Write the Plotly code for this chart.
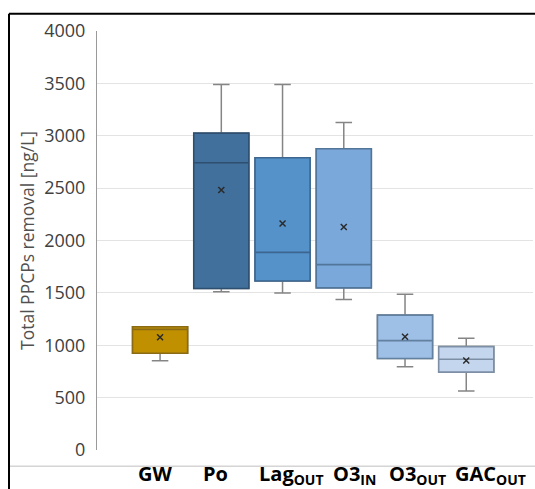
import plotly.graph_objects as go

categories = ["GW", "Po", "Lag<sub>OUT</sub>", "O3<sub>IN</sub>", "O3<sub>OUT</sub>", "GAC<sub>OUT</sub>"]
lower_whisker = [851, 1510, 1500, 1437, 794, 563]
q1 = [924, 1542, 1614, 1548, 873, 743]
median = [1152, 2742, 1887, 1770, 1044, 867]
q3 = [1177, 3025, 2790, 2876, 1288, 987]
upper_whisker = [1177, 3490, 3490, 3126, 1488, 1067]
mean = [1076, 2483, 2163, 2128, 1082, 854]

fills = ["#C09000", "#41709C", "#5592CA", "#7AA8DA", "#9EBFE6", "#C4D6EE"]
outlines = ["#8A6A14", "#2E4F70", "#3C6690", "#52759A", "#62809F", "#7C8FA5"]
label_shift = [-0.08, -0.10, 0.15, 0.18, 0.20, 0.39]

fig = go.Figure()
for i in range(len(categories)):
    # full box with grey whiskers
    fig.add_trace(go.Box(
        x=[i], q1=[q1[i]], median=[median[i]], q3=[q3[i]],
        lowerfence=[lower_whisker[i]], upperfence=[upper_whisker[i]],
        width=0.9, whiskerwidth=0.3, fillcolor=fills[i],
        line=dict(color="#858585", width=1.5), boxpoints=False,
        hoverinfo="skip", showlegend=False))
    # overlay box outline in darker colour
    fig.add_trace(go.Box(
        x=[i], q1=[q1[i]], median=[median[i]], q3=[q3[i]],
        lowerfence=[q1[i]], upperfence=[q3[i]],
        width=0.9, whiskerwidth=0.0, fillcolor=fills[i],
        line=dict(color=outlines[i], width=1.6), boxpoints=False,
        showlegend=False))

fig.add_trace(go.Scatter(
    x=list(range(len(categories))), y=mean, mode="markers",
    marker=dict(symbol="x-thin", size=6, line=dict(color="#2a2a2a", width=1.5)),
    showlegend=False))

W, H = 535, 489
L, R, T, B = 97, 533, 30.7, 450.5
def px(x):
    return (x - L) / (R - L)
def py(y):
    return (B - y) / (B - T)

annotations = []
for i, c in enumerate(categories):
    annotations.append(dict(
        x=i + label_shift[i], y=py(459), xref="x", yref="paper",
        text="<b>" + c + "</b>", showarrow=False, xanchor="center", yanchor="top",
        font=dict(family="Open Sans", size=20, color="#000000")))

shapes = [
    dict(type="line", xref="paper", yref="paper", x0=px(9), x1=px(536), y0=py(13.3), y1=py(13.3),
         line=dict(color="#000000", width=2)),
    dict(type="line", xref="paper", yref="paper", x0=px(9), x1=px(9), y0=py(13.3), y1=py(490),
         line=dict(color="#000000", width=2)),
    dict(type="line", xref="paper", yref="paper", x0=px(10), x1=px(536), y0=py(466.7), y1=py(466.7),
         line=dict(color="#BFBFBF", width=1), layer="below"),
]

fig.update_layout(
    width=W, height=H,
    margin=dict(l=L, r=W - R, t=T, b=H - B, pad=0),
    paper_bgcolor="white", plot_bgcolor="white",
    boxmode="overlay",
    showlegend=False,
    annotations=annotations,
    shapes=shapes,
    xaxis=dict(range=[-1.03, 6.09], showticklabels=False, showgrid=False,
               zeroline=False, showline=False, ticks=""),
    yaxis=dict(range=[0, 4000], tickvals=[0, 500, 1000, 1500, 2000, 2500, 3000, 3500, 4000],
               showgrid=True, gridcolor="#E3E3E3", gridwidth=1,
               zeroline=False, showline=True, linecolor="#9A9A9A", linewidth=1,
               ticks="outside", ticklen=7, tickcolor="rgba(0,0,0,0)",
               tickfont=dict(family="Open Sans", size=18, color="#404040"),
               title=dict(text="Total PPCPs removal [ng/L]", standoff=5,
                          font=dict(family="Open Sans", size=17.5, color="#505050"))),
)

fig.write_html("out.html", config={"displayModeBar": False},
               post_script="document.body.style.margin='0';document.body.style.overflow='hidden';")
